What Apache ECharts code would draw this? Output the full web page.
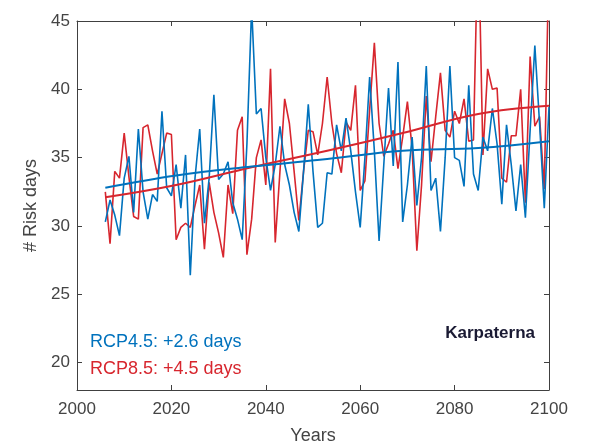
<!DOCTYPE html>
<html>
<head>
<meta charset="utf-8">
<script src="https://cdn.jsdelivr.net/npm/echarts@6/dist/echarts.min.js"></script>
<style>
html,body{margin:0;padding:0;background:#fff;}
#chart{width:591px;height:444px;}
</style>
</head>
<body>
<div id="chart"></div>
<script>
var startYear = 2006;
var rcp45 = [
  30.3, 31.9, 30.8, 29.3, 33.5, 35.1, 31.0, 37.1, 32.5, 30.5,
  32.3, 31.8, 38.4, 32.8, 32.2, 34.5, 31.3, 35.2, 26.4, 33.5,
  37.1, 30.2, 33.5, 39.6, 33.4, 33.8, 34.7, 31.7, 30.5, 29.0,
  36.0, 46.0, 38.2, 38.6, 35.0, 32.6, 34.5, 37.3, 34.5, 33.0,
  31.0, 29.6, 34.0, 38.9, 34.0, 29.9, 30.2, 33.9, 33.8, 37.4,
  35.5, 37.9, 35.5, 32.5, 29.9, 35.0, 40.9, 35.5, 28.9, 34.5,
  40.1, 34.4, 42.0, 30.3, 33.0, 36.5, 31.5, 35.0, 41.7, 32.6,
  33.5, 29.6, 35.0, 41.7, 35.0, 34.8, 32.9, 40.3, 33.8, 32.6,
  36.5, 35.5, 38.6, 36.0, 31.6, 37.4, 34.5, 31.1, 34.5, 30.6,
  37.0, 43.2, 37.5, 31.3, 38.7
];
var rcp85 = [
  32.5, 28.7, 34.0, 33.5, 36.8, 33.6, 30.7, 30.5, 37.2, 37.4,
  35.5, 33.8, 35.3, 36.8, 36.7, 29.0, 29.9, 30.2, 29.9, 31.5,
  33.0, 28.3, 33.2, 31.0, 29.5, 27.7, 33.0, 30.9, 37.0, 38.0,
  27.9, 30.5, 35.0, 36.3, 33.0, 41.5, 28.8, 34.0, 39.3, 37.5,
  34.0, 30.4, 34.0, 37.0, 36.9, 35.2, 37.5, 40.9, 37.5, 35.3,
  33.9, 37.6, 37.0, 40.3, 32.6, 33.3, 38.5, 43.4, 37.5, 35.1,
  36.0, 37.0, 34.2, 36.5, 39.1, 35.7, 28.2, 33.0, 39.5, 34.7,
  38.0, 41.2, 37.0, 36.5, 38.4, 37.5, 39.3, 36.2, 36.3, 52.0,
  35.2, 41.5, 40.0, 40.1, 33.5, 33.2, 36.6, 36.6, 40.0, 31.7,
  42.4, 37.3, 38.0, 32.7, 50.0
];
var trendYears = [2006, 2021, 2037, 2053, 2069, 2085, 2100];
var trend45 = [32.8, 33.7, 34.35, 34.9, 35.5, 35.7, 36.2];
var trend85 = [32.1, 33.0, 34.3, 35.5, 36.8, 38.2, 38.8];
var xTicks = [2000, 2020, 2040, 2060, 2080, 2100];
var yTicks = [20, 25, 30, 35, 40, 45];
var label45 = 'RCP4.5: +2.6 days';
var label85 = 'RCP8.5: +4.5 days';
var regionName = 'Karpaterna';

var BLUE = '#0072BD';
var RED = '#D7262E';
var FONT = 'Liberation Sans, Arial, sans-serif';
var TXT = '#444';

function pairs(start, arr) { return arr.map(function (v, i) { return [start + i, v]; }); }
function zipPairs(xs, ys) { return xs.map(function (x, i) { return [x, ys[i]]; }); }

var axisLineStyle = { color: '#404040', width: 1 };
var chart = echarts.init(document.getElementById('chart'), null, { renderer: 'canvas' });
chart.setOption({
  animation: false,
  backgroundColor: '#fff',
  grid: { left: 77, right: 42, top: 21, bottom: 54, containLabel: false, outerBoundsMode: 'none' },
  xAxis: [{
    type: 'value', min: 2000, max: 2100, interval: 20,
    name: 'Years', nameLocation: 'middle', nameGap: 37,
    nameTextStyle: { fontFamily: FONT, fontSize: 18, color: TXT },
    axisLine: { show: true, lineStyle: axisLineStyle },
    axisTick: { show: true, inside: true, length: 5, lineStyle: axisLineStyle, customValues: xTicks },
    axisLabel: { fontFamily: FONT, fontSize: 17, color: TXT, margin: 11, customValues: xTicks,
      formatter: function (v) { return String(v); } },
    splitLine: { show: false }
  }, {
    type: 'value', min: 2000, max: 2100, interval: 20, position: 'top',
    axisLine: { show: true, lineStyle: axisLineStyle },
    axisTick: { show: true, inside: true, length: 5, lineStyle: axisLineStyle, customValues: xTicks },
    axisLabel: { show: false }, splitLine: { show: false }
  }],
  yAxis: [{
    type: 'value', min: 18, max: 45,
    name: '# Risk days', nameLocation: 'middle', nameGap: 29,
    nameTextStyle: { fontFamily: FONT, fontSize: 18, color: TXT },
    axisLine: { show: true, lineStyle: axisLineStyle },
    axisTick: { show: true, inside: true, length: 5, lineStyle: axisLineStyle, customValues: yTicks },
    axisLabel: { fontFamily: FONT, fontSize: 17, color: TXT, margin: 7, customValues: yTicks },
    splitLine: { show: false }
  }, {
    type: 'value', min: 18, max: 45, position: 'right',
    axisLine: { show: true, lineStyle: axisLineStyle },
    axisTick: { show: true, inside: true, length: 5, lineStyle: axisLineStyle, customValues: yTicks },
    axisLabel: { show: false, customValues: yTicks }, splitLine: { show: false }
  }],
  series: [
    { name: 'RCP4.5', type: 'line', data: pairs(startYear, rcp45), showSymbol: false, clip: true,
      lineStyle: { color: BLUE, width: 1.6 }, z: 3 },
    { name: 'RCP8.5', type: 'line', data: pairs(startYear, rcp85), showSymbol: false, clip: true,
      lineStyle: { color: RED, width: 1.6 }, z: 2 },
    { name: 'trend45', type: 'line', data: zipPairs(trendYears, trend45), showSymbol: false, smooth: 0.4,
      lineStyle: { color: BLUE, width: 2 }, z: 5 },
    { name: 'trend85', type: 'line', data: zipPairs(trendYears, trend85), showSymbol: false, smooth: 0.4,
      lineStyle: { color: RED, width: 2 }, z: 4 }
  ],
  graphic: [
    { type: 'text', left: 90, top: 333, style: { text: label45, fill: BLUE, font: '18px ' + FONT } },
    { type: 'text', left: 90, top: 360, style: { text: label85, fill: RED, font: '18px ' + FONT } },
    { type: 'text', right: 56, top: 325, style: { text: regionName, fill: '#1a1a33', font: 'bold 17px ' + FONT } }
  ]
});
</script>
</body>
</html>
